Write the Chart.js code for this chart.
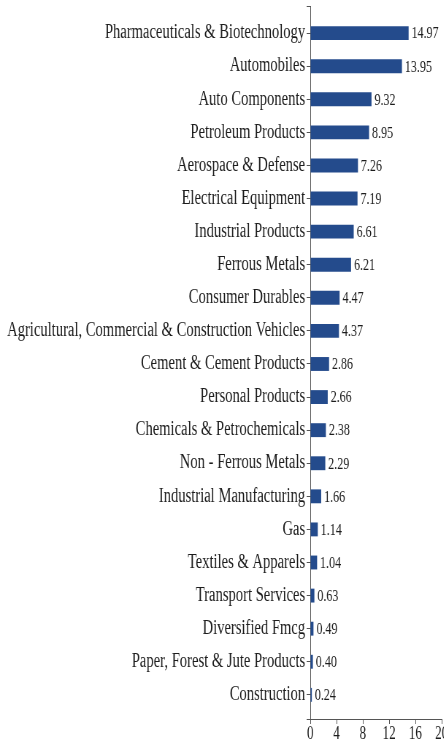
<!DOCTYPE html>
<html>
<head>
<meta charset="utf-8">
<script src="https://cdn.jsdelivr.net/npm/chart.js@4.4.1/dist/chart.umd.min.js"></script>
<style>
  html, body { margin: 0; padding: 0; width: 444px; height: 742px; overflow: hidden; background: #fff; }
  #wrap { position: absolute; left: 0; top: 0; width: 615px; height: 742px; transform-origin: 0 0; }
</style>
</head>
<body>
<div id="wrap"><canvas id="c" width="615" height="742"></canvas></div>
<script>
// Sector weights (%), largest first
const sectors = [
  'Pharmaceuticals & Biotechnology',
  'Automobiles',
  'Auto Components',
  'Petroleum Products',
  'Aerospace & Defense',
  'Electrical Equipment',
  'Industrial Products',
  'Ferrous Metals',
  'Consumer Durables',
  'Agricultural, Commercial & Construction Vehicles',
  'Cement & Cement Products',
  'Personal Products',
  'Chemicals & Petrochemicals',
  'Non - Ferrous Metals',
  'Industrial Manufacturing',
  'Gas',
  'Textiles & Apparels',
  'Transport Services',
  'Diversified Fmcg',
  'Paper, Forest & Jute Products',
  'Construction'
];
const weights = [14.97, 13.95, 9.32, 8.95, 7.26, 7.19, 6.61, 6.21, 4.47, 4.37,
                 2.86, 2.66, 2.38, 2.29, 1.66, 1.14, 1.04, 0.63, 0.49, 0.40, 0.24];
const xTicks = [0, 4, 8, 12, 16, 20];

// The whole drawing is rendered wide and squeezed horizontally for a condensed face
const SQUEEZE = 0.73;
document.getElementById('wrap').style.transform = 'scaleX(' + SQUEEZE + ')';

const FONT = "'Liberation Serif', 'Times New Roman', serif";
const INK = '#1c1c1c';
const AXIS = '#555555';

// index range of the category axis, a little wider than the bars themselves
const Y_MIN = -0.82, Y_MAX = 20.73;

const valueLabels = {
  id: 'valueLabels',
  afterDatasetsDraw(chart) {
    const ctx = chart.ctx;
    const meta = chart.getDatasetMeta(0);
    ctx.save();
    ctx.font = '16.5px ' + FONT;
    ctx.fillStyle = INK;
    ctx.textAlign = 'left';
    ctx.textBaseline = 'middle';
    meta.data.forEach((bar, i) => {
      ctx.fillText(weights[i].toFixed(2), bar.x + 4, bar.y + 1);
    });
    ctx.restore();
  }
};

new Chart(document.getElementById('c'), {
  type: 'bar',
  data: {
    datasets: [{
      data: weights.map((w, i) => ({ x: w, y: i })),
      backgroundColor: '#244b8c',
      borderWidth: 0,
      categoryPercentage: 1,
      barPercentage: 0.575
    }]
  },
  plugins: [valueLabels],
  options: {
    indexAxis: 'y',
    responsive: false,
    animation: false,
    devicePixelRatio: 1,
    layout: { padding: { top: 6, left: 0, right: 0, bottom: 0 } },
    plugins: { legend: { display: false }, tooltip: { enabled: false } },
    scales: {
      y: {
        type: 'linear',
        reverse: true,
        offset: false,
        min: Y_MIN,
        max: Y_MAX,
        afterBuildTicks(scale) {
          scale.ticks = [Y_MIN].concat(sectors.map((s, i) => i), [Y_MAX]).map(v => ({ value: v }));
        },
        afterFit(scale) {
          scale.width = 425;
          scale.paddingTop = 0;
          scale.paddingBottom = 0;
        },
        ticks: {
          autoSkip: false,
          padding: 2,
          color: INK,
          font: { family: FONT, size: 20 },
          callback: (v) => Number.isInteger(v) ? sectors[v] : ''
        },
        grid: { offset: false, drawOnChartArea: false, drawTicks: true, tickLength: 5, color: AXIS, lineWidth: 1 },
        border: { display: true, color: AXIS, width: 1 }
      },
      x: {
        type: 'linear',
        min: 0,
        max: 20,
        afterBuildTicks(scale) {
          scale.ticks = xTicks.map(v => ({ value: v }));
        },
        afterFit(scale) {
          scale.height = 23;
        },
        ticks: {
          padding: 1,
          color: INK,
          maxRotation: 0,
          font: { family: FONT, size: 18, lineHeight: 1 }
        },
        grid: { drawOnChartArea: false, drawTicks: true, tickLength: 5, color: AXIS, lineWidth: 1 },
        border: { display: true, color: AXIS, width: 1 }
      }
    }
  }
});
</script>
</body>
</html>
